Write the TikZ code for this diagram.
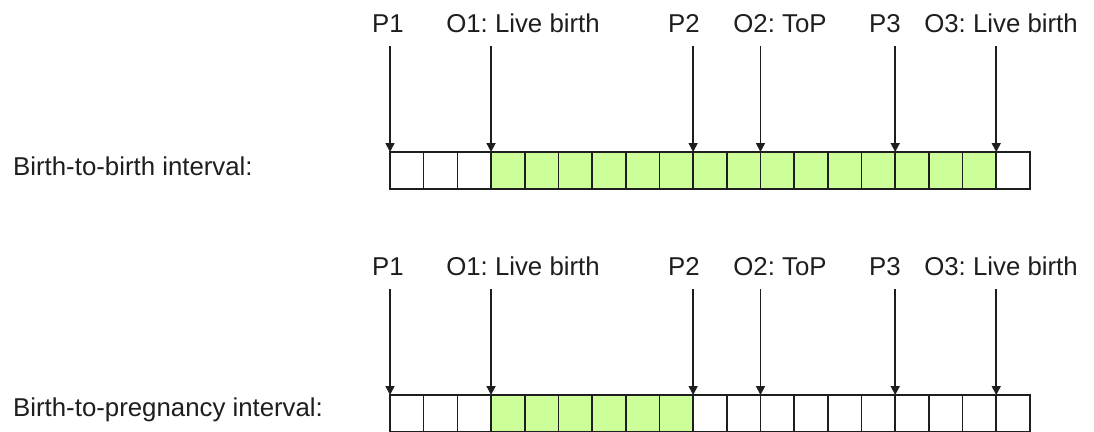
\documentclass[tikz,border=0pt]{standalone}
\usepackage{fontspec}
\setmainfont{Liberation Sans}
\usetikzlibrary{arrows.meta}
\definecolor{cellgreen}{RGB}{204,255,153}
\definecolor{ink}{RGB}{30,30,30}
\frenchspacing
\begin{document}
\begin{tikzpicture}[x=1pt,y=-1pt,
  cell/.style={draw=ink, line width=1.6pt, minimum width=33.68pt, minimum height=37pt, inner sep=0pt, outer sep=0pt},
  lbl/.style={font=\fontsize{25.8}{30}\selectfont, text=ink, anchor=base, inner sep=0pt},
  rowlbl/.style={lbl, anchor=base west},
  pointer/.style={draw=ink, line width=1.6pt, -{Triangle[length=9pt,width=9pt]}}
]
\useasboundingbox[fill=white] (0,0) rectangle (1094,431);

% ---------- Row 1: birth-to-birth ----------
\foreach \i in {0,...,18}{
  \ifnum\i>2 \ifnum\i<18 \def\fc{cellgreen}\else\def\fc{white}\fi\else\def\fc{white}\fi
  \node[cell, fill=\fc] (a\i) at ({390+33.68*\i+16.84}, 170.5) {};
}
% ---------- Row 2: birth-to-pregnancy ----------
\foreach \i in {0,...,18}{
  \ifnum\i>2 \ifnum\i<9 \def\fc{cellgreen}\else\def\fc{white}\fi\else\def\fc{white}\fi
  \node[cell, fill=\fc] (b\i) at ({390+33.68*\i+16.84}, 413.5) {};
}

% row labels
\node[rowlbl] (rowA) at (13,175) {Birth-to-birth interval:};
\node[rowlbl] (rowB) at (13,416) {Birth-to-pregnancy interval:};

% event labels, row 1
\node[lbl] (aP1) at (388,32) {P1};
\node[lbl] (aO1) at (523,32) {O1: Live birth};
\node[lbl] (aP2) at (684,32) {P2};
\node[lbl] (aO2) at (780,32) {O2: ToP};
\node[lbl] (aP3) at (885,32) {P3};
\node[lbl] (aO3) at (1001,32) {O3: Live birth};

% event labels, row 2
\node[lbl] (bP1) at (388,275) {P1};
\node[lbl] (bO1) at (523,275) {O1: Live birth};
\node[lbl] (bP2) at (684,275) {P2};
\node[lbl] (bO2) at (780,275) {O2: ToP};
\node[lbl] (bP3) at (885,275) {P3};
\node[lbl] (bO3) at (1001,275) {O3: Live birth};

% arrows
\foreach \k/\c in {P1/0, O1/3, P2/9, O2/11, P3/15, O3/18}{
  \coordinate (as\k) at ({390+33.68*\c}, 46);
  \draw[pointer] (as\k) -- (a\c.north west);
  \coordinate (bs\k) at ({390+33.68*\c}, 289);
  \draw[pointer] (bs\k) -- (b\c.north west);
}
\end{tikzpicture}
\end{document}
